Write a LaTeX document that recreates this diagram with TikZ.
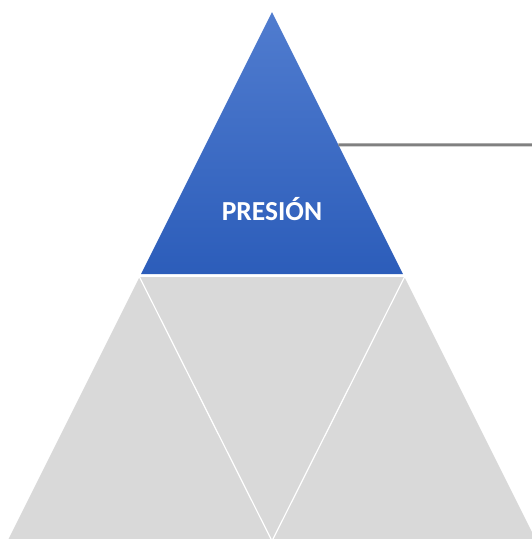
\documentclass[tikz,border=0pt]{standalone}
\usepackage{fontspec}
\setmainfont{Carlito}
\usetikzlibrary{calc}
\definecolor{pyrtop}{RGB}{80,124,207}
\definecolor{pyrbot}{RGB}{44,93,186}
\definecolor{pyrgray}{RGB}{217,217,217}
\definecolor{leadgray}{RGB}{128,128,128}

\begin{document}
\begin{tikzpicture}[x=1pt,y=-1pt]
			\useasboundingbox (0,0) rectangle (532,539);
			\clip (0,0) rectangle (532,539);
			% lower part: three grey triangles
			\coordinate (glt) at (139.5,277);
			\coordinate (grt) at (404.5,277);
			\coordinate (gbl) at (7.5,541);
			\coordinate (gbr) at (536.5,541);
			\coordinate (gbm) at (272,541);
			\fill [pyrgray] (gbl) -- (glt) -- (grt) -- (gbr) -- cycle;
			\draw [white,line width=1.2pt] (glt) -- (gbm) -- (grt);
			% top: blue triangle
			\coordinate (apex) at (272,12);
			\coordinate (blt) at (141,274);
			\coordinate (brt) at (403,274);
			\shade [top color=pyrtop,bottom color=pyrbot] (apex) -- (blt) -- (brt) -- cycle;
			\node [text=white,font=\bfseries\fontsize{27.5}{32}\selectfont] (presion) at (272,209) {PRESIÓN};
			% leader line
			\coordinate (lead) at ($(apex)!0.5067!(brt)$);
			\coordinate (leadend) at (545,145);
			\draw [leadgray,line width=3pt] (lead) -- (leadend);
			\end{tikzpicture}
\end{document}
